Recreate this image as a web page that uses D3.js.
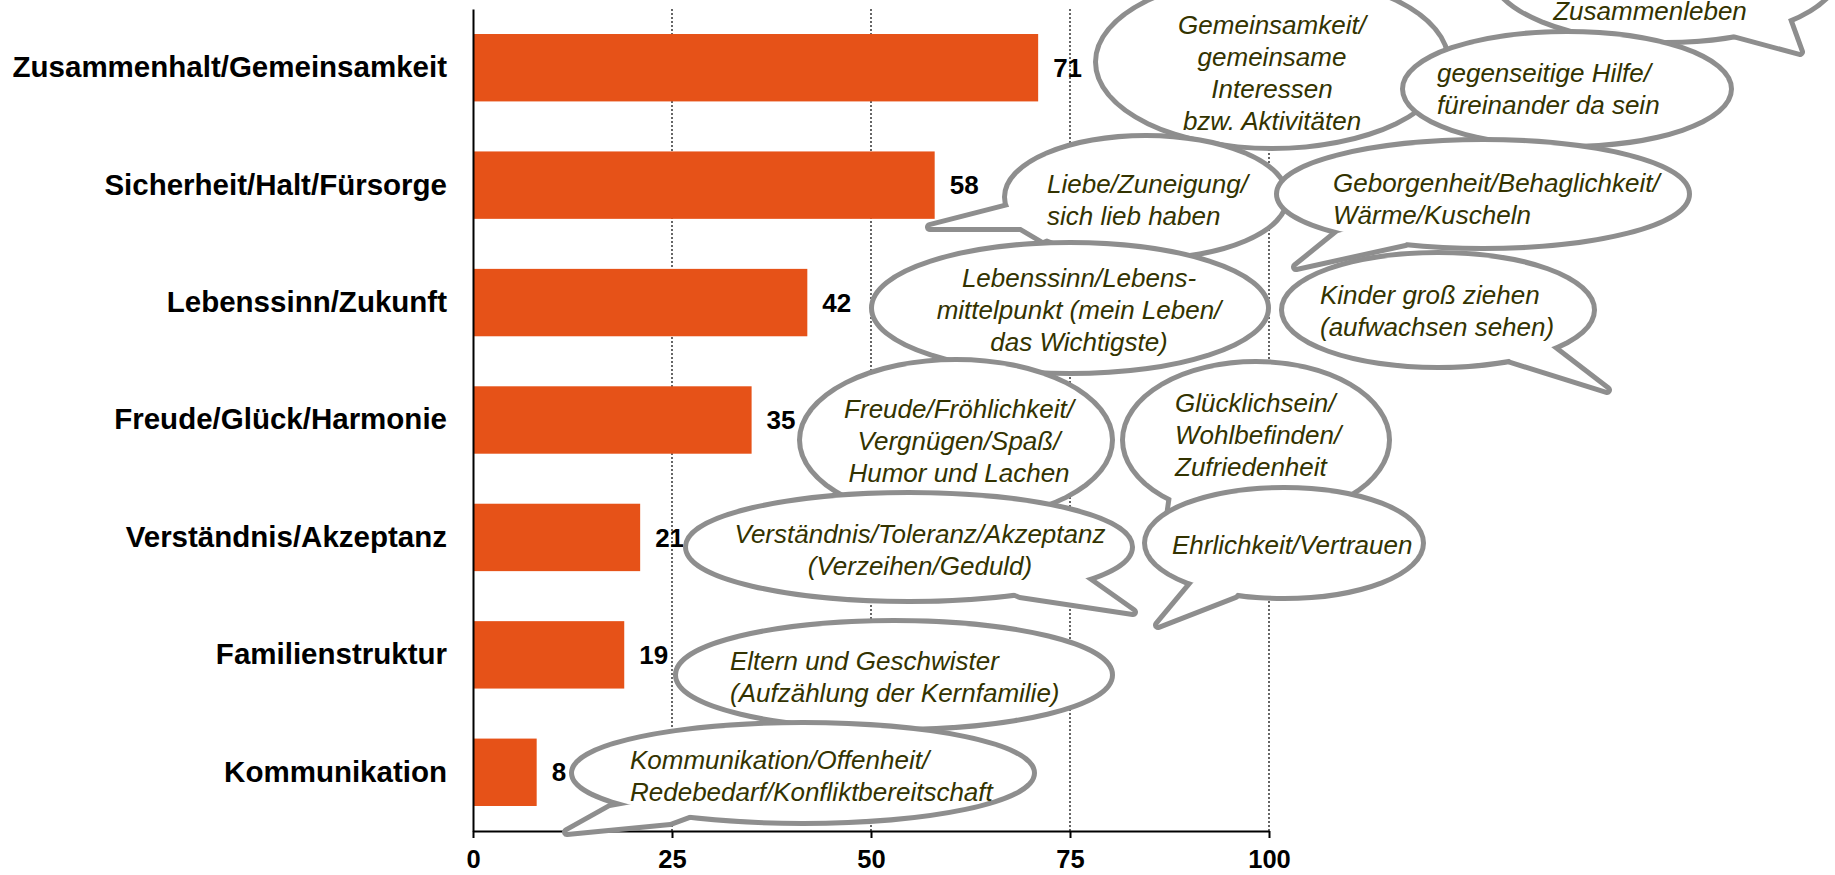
<!DOCTYPE html>
<html lang="de">
<head>
<meta charset="utf-8">
<title>Was bedeutet Familie</title>
<script src="https://cdn.jsdelivr.net/npm/d3@7"></script>
<style>
  body { margin: 0; background: #fff; }
  svg { display: block; font-family: "Liberation Sans", Arial, sans-serif; }
</style>
</head>
<body>
<script>
// chart values
var categories = ["Zusammenhalt/Gemeinsamkeit", "Sicherheit/Halt/Fürsorge", "Lebenssinn/Zukunft",
                  "Freude/Glück/Harmonie", "Verständnis/Akzeptanz", "Familienstruktur", "Kommunikation"];
var values = [71, 58, 42, 35, 21, 19, 8];
var xTicks = [0, 25, 50, 75, 100];

// speech bubble texts (drawing order)
var bubbleTexts = [
  ["Zusammenleben"],
  ["Gemeinsamkeit/", "gemeinsame", "Interessen", "bzw. Aktivitäten"],
  ["gegenseitige Hilfe/", "füreinander da sein"],
  ["Liebe/Zuneigung/", "sich lieb haben"],
  ["Geborgenheit/Behaglichkeit/", "Wärme/Kuscheln"],
  ["Kinder groß ziehen", "(aufwachsen sehen)"],
  ["Lebenssinn/Lebens-", "mittelpunkt (mein Leben/", "das Wichtigste)"],
  ["Freude/Fröhlichkeit/", "Vergnügen/Spaß/", "Humor und Lachen"],
  ["Glücklichsein/", "Wohlbefinden/", "Zufriedenheit"],
  ["Verständnis/Toleranz/Akzeptanz", "(Verzeihen/Geduld)"],
  ["Ehrlichkeit/Vertrauen"],
  ["Eltern und Geschwister", "(Aufzählung der Kernfamilie)"],
  ["Kommunikation/Offenheit/", "Redebedarf/Konfliktbereitschaft"]
];

// bubble placement (pixels): ellipse, tail polygon, text anchor + first baseline
var bubbleLayout = [
  {cx: 1665, cy: -30, rx: 173, ry: 70, tail: [[1788, 19], [1800, 52], [1733, 34]], tx: 1650, ty: 20, anchor: "middle"},
  {cx: 1272, cy: 62, rx: 174, ry: 84, tail: null, tx: 1272, ty: 34, anchor: "middle"},
  {cx: 1567, cy: 89, rx: 162, ry: 55, tail: null, tx: 1437, ty: 82, anchor: "start"},
  {cx: 1146, cy: 197, rx: 139, ry: 59, tail: [[1008, 207], [930, 227], [1021, 227], [1043, 240]], tx: 1047, ty: 193, anchor: "start"},
  {cx: 1483, cy: 194, rx: 204, ry: 52, tail: [[1338, 233], [1296, 267], [1405, 243]], tx: 1333, ty: 192, anchor: "start"},
  {cx: 1438, cy: 310, rx: 154, ry: 55, tail: [[1551, 347], [1607, 390], [1511, 360]], tx: 1320, ty: 304, anchor: "start"},
  {cx: 1070, cy: 308, rx: 196, ry: 63, tail: null, tx: 1079, ty: 287, anchor: "middle"},
  {cx: 956, cy: 440, rx: 154, ry: 78, tail: null, tx: 959, ty: 418, anchor: "middle"},
  {cx: 1256, cy: 440, rx: 131, ry: 76, tail: [[1172, 495], [1165, 545], [1205, 510]], tx: 1175, ty: 412, anchor: "start"},
  {cx: 909, cy: 547, rx: 221, ry: 52, tail: [[1085, 578], [1133, 612], [1020, 595]], tx: 920, ty: 543, anchor: "middle"},
  {cx: 1284, cy: 543, rx: 137, ry: 53, tail: [[1193, 583], [1158, 625], [1235, 595]], tx: 1172, ty: 554, anchor: "start"},
  {cx: 894, cy: 675, rx: 216, ry: 52, tail: null, tx: 730, ty: 670, anchor: "start"},
  {cx: 803, cy: 773, rx: 229, ry: 48, tail: [[610, 808], [567, 832], [670, 822]], tx: 630, ty: 769, anchor: "start"}
];

var svg_w = 1835, svg_h = 875;
var plotLeft = 473, plotRight = 1269, plotTop = 9, plotBottom = 831;

var svg = d3.select("body").append("svg")
            .attr("width", svg_w)
            .attr("height", svg_h);

var x = d3.scaleLinear().domain([0, 100]).range([plotLeft, plotRight]);
var y = d3.scaleBand().domain(categories).range([plotTop, plotBottom])
          .paddingInner(0.426).paddingOuter(0.213);

// dotted gridlines
svg.append("g")
   .selectAll("line")
   .data(xTicks.slice(1))
   .enter()
   .append("line")
   .attr("x1", function(d) { return x(d); })
   .attr("x2", function(d) { return x(d); })
   .attr("y1", plotTop)
   .attr("y2", plotBottom)
   .attr("stroke", "#000")
   .attr("stroke-width", 1.2)
   .attr("stroke-dasharray", "2,2");

// bars
svg.append("g")
   .selectAll("rect")
   .data(values)
   .enter()
   .append("rect")
   .attr("x", x(0))
   .attr("y", function(d, i) { return y(categories[i]); })
   .attr("width", function(d) { return x(d) - x(0); })
   .attr("height", y.bandwidth())
   .attr("fill", "#e65218");

// value labels
svg.append("g")
   .selectAll("text")
   .data(values)
   .enter()
   .append("text")
   .text(function(d) { return d; })
   .attr("x", function(d) { return x(d) + 15; })
   .attr("y", function(d, i) { return y(categories[i]) + y.bandwidth() / 2; })
   .attr("dy", "0.35em")
   .attr("font-size", "26px")
   .attr("font-weight", "bold")
   .attr("fill", "#000");

// axes
var xAxis = svg.append("g")
   .attr("transform", "translate(0," + plotBottom + ")")
   .call(d3.axisBottom(x).tickValues(xTicks).tickSize(7).tickSizeOuter(0));
xAxis.select(".domain").attr("stroke-width", 2);
xAxis.selectAll(".tick line").attr("stroke-width", 2);
xAxis.selectAll(".tick text")
     .attr("y", 19)
     .attr("font-size", "25.5px")
     .attr("font-weight", "bold")
     .attr("font-family", "Liberation Sans, Arial, sans-serif")
     .attr("fill", "#000");

var yAxis = svg.append("g")
   .attr("transform", "translate(" + plotLeft + ",0)")
   .call(d3.axisLeft(y).tickSize(0).tickPadding(26).tickSizeOuter(0));
yAxis.select(".domain").attr("stroke-width", 2);
yAxis.selectAll(".tick text")
     .attr("font-size", "29.5px")
     .attr("font-weight", "bold")
     .attr("font-family", "Liberation Sans, Arial, sans-serif")
     .attr("fill", "#000");

// speech bubbles: outline layer first, then white fill over it,
// so ellipse and tail read as one shape
var polyLine = d3.line();
var bubbles = svg.append("g")
   .selectAll("g")
   .data(bubbleLayout)
   .enter()
   .append("g");

bubbles.each(function(b, i) {
  var g = d3.select(this);
  [true, false].forEach(function(outline) {
    g.append("ellipse")
     .attr("cx", b.cx).attr("cy", b.cy)
     .attr("rx", b.rx).attr("ry", b.ry)
     .attr("fill", "#fff")
     .attr("stroke", outline ? "#8e8e8e" : "none")
     .attr("stroke-width", outline ? 10 : 0);
    if (b.tail) {
      g.append("path")
       .attr("d", polyLine(b.tail.concat([[b.cx, b.cy]])) + "Z")
       .attr("fill", "#fff")
       .attr("stroke", outline ? "#8e8e8e" : "none")
       .attr("stroke-width", outline ? 10 : 0)
       .attr("stroke-linejoin", "round");
    }
  });
  var t = g.append("text")
   .attr("x", b.tx)
   .attr("y", b.ty)
   .attr("text-anchor", b.anchor)
   .attr("font-size", "26px")
   .attr("font-style", "italic")
   .attr("fill", "#333300");
  t.selectAll("tspan")
   .data(bubbleTexts[i])
   .enter()
   .append("tspan")
   .attr("x", b.tx)
   .attr("dy", function(d, j) { return j === 0 ? 0 : 32; })
   .text(function(d) { return d; });
});
</script>
</body>
</html>
